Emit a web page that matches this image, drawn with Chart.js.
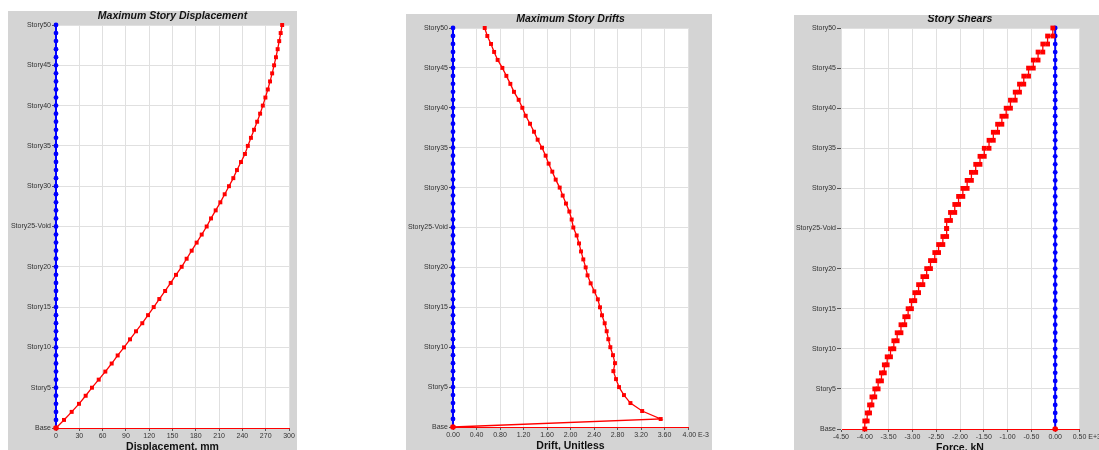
<!DOCTYPE html>
<html lang="en">
<head>
  <meta charset="UTF-8" />
  <title>Story Response</title>
  <script src="https://cdn.jsdelivr.net/npm/chart.js"></script>
  <style>
    html, body { margin: 0; padding: 0; background: #fff; width: 1099px; height: 450px; overflow: hidden; }
    .painel { position: absolute; background: #d4d4d4; }
    .painel canvas { display: block; }
  </style>
</head>
<body>
  <div class="painel" style="left:8px; top:11px;"><canvas id="dispChart" width="289" height="460"></canvas></div>
  <div class="painel" style="left:406px; top:14px;"><canvas id="driftChart" width="306" height="460"></canvas></div>
  <div class="painel" style="left:794px; top:15px;"><canvas id="shearChart" width="305" height="460"></canvas></div>

  <script>
    // story names, Base at index 0 up to Story50
    var stories = ['Base', 'Story1', 'Story2', 'Story3', 'Story4', 'Story5', 'Story6', 'Story7', 'Story8', 'Story9',
      'Story10', 'Story11', 'Story12', 'Story13', 'Story14', 'Story15', 'Story16', 'Story17', 'Story18', 'Story19',
      'Story20', 'Story21', 'Story22', 'Story23', 'Story24', 'Story25-Void', 'Story26', 'Story27', 'Story28', 'Story29',
      'Story30', 'Story31', 'Story32', 'Story33', 'Story34', 'Story35', 'Story36', 'Story37', 'Story38', 'Story39',
      'Story40', 'Story41', 'Story42', 'Story43', 'Story44', 'Story45', 'Story46', 'Story47', 'Story48', 'Story49', 'Story50'];

    // max story displacement (mm), Base..Story50
    var displacement = [0, 10.3, 20.2, 29.6, 38.2, 46.3, 55.0, 63.5, 71.7, 79.4,
      87.6, 95.3, 103.0, 111.1, 118.5, 125.8, 133.0, 140.5, 147.7, 154.5,
      161.8, 168.2, 174.7, 181.1, 187.6, 194.0, 199.6, 205.6, 211.6, 217.2,
      222.7, 228.3, 233.0, 238.2, 243.3, 247.0, 251.0, 255.0, 259.0, 262.8,
      266.3, 269.6, 272.7, 275.6, 278.3, 280.8, 283.2, 285.4, 287.4, 289.3, 291.2];

    // max story drift (E-3), Base..Story50
    var drift = [0, 3.535, 3.22, 3.02, 2.91, 2.826, 2.775, 2.73, 2.757, 2.723,
      2.678, 2.644, 2.616, 2.582, 2.536, 2.502, 2.465, 2.405, 2.343, 2.29,
      2.258, 2.218, 2.179, 2.145, 2.105, 2.048, 2.02, 1.98, 1.923, 1.867,
      1.816, 1.748, 1.69, 1.628, 1.577, 1.515, 1.441, 1.379, 1.311, 1.237,
      1.18, 1.118, 1.038, 0.976, 0.908, 0.84, 0.76, 0.70, 0.647, 0.584, 0.54];

    // story shear (kN E+3), Story1..Story50
    var shear = [-4.00, -3.95, -3.90, -3.85, -3.79, -3.72, -3.65, -3.59, -3.53, -3.46,
      -3.39, -3.32, -3.24, -3.16, -3.09, -3.02, -2.95, -2.87, -2.78, -2.70,
      -2.62, -2.53, -2.45, -2.36, -2.28, -2.28, -2.20, -2.11, -2.03, -1.94,
      -1.85, -1.76, -1.67, -1.58, -1.49, -1.39, -1.30, -1.21, -1.12, -1.03,
      -0.94, -0.84, -0.75, -0.66, -0.56, -0.46, -0.36, -0.26, -0.16, -0.05];

    // the other direction, zero at every level (Base..Story50)
    var zeroLine = [0, 0, 0, 0, 0, 0, 0, 0, 0, 0, 0, 0, 0, 0, 0, 0, 0, 0, 0, 0, 0, 0, 0, 0, 0, 0,
      0, 0, 0, 0, 0, 0, 0, 0, 0, 0, 0, 0, 0, 0, 0, 0, 0, 0, 0, 0, 0, 0, 0, 0, 0];

    var dispTicks = ['0', '30', '60', '90', '120', '150', '180', '210', '240', '270', '300'];
    var driftTicks = ['0.00', '0.40', '0.80', '1.20', '1.60', '2.00', '2.40', '2.80', '3.20', '3.60', '4.00 E-3'];
    var shearTicks = ['-4.50', '-4.00', '-3.50', '-3.00', '-2.50', '-2.00', '-1.50', '-1.00', '-0.50', '0.00', '0.50 E+3'];

    var FONTE = '"Liberation Sans", Arial, sans-serif';
    var VERMELHO = '#ff0000';
    var AZUL = '#0000ff';

    // white plot area + title over the plot
    var fundoPlugin = {
      id: 'fundoPlugin',
      beforeDraw: function (chart) {
        var a = chart.chartArea;
        chart.ctx.save();
        chart.ctx.fillStyle = '#ffffff';
        chart.ctx.fillRect(a.left, a.top, a.right - a.left, a.bottom - a.top);
        chart.ctx.restore();
      },
      afterDraw: function (chart, args, opts) {
        var a = chart.chartArea;
        var ctx = chart.ctx;
        ctx.save();
        ctx.font = 'italic bold 10.5px ' + FONTE;
        ctx.fillStyle = '#111';
        ctx.textAlign = 'center';
        ctx.textBaseline = 'middle';
        ctx.fillText(opts.texto, (a.left + a.right) / 2, a.top - 8.5);
        ctx.restore();
      }
    };

    function pontos(xs) {
      var lista = [];
      for (var i = 0; i < xs.length; i++) {
        lista.push({ x: xs[i], y: i });
      }
      return lista;
    }

    function criarGrafico(id, conf) {
      var serieAzul = {
        data: pontos(zeroLine),
        borderColor: AZUL,
        borderWidth: 2,
        pointStyle: 'circle',
        pointRadius: function (ctx) { return ctx.dataIndex === 0 ? 2.8 : 2.4; },
        pointBackgroundColor: function (ctx) { return ctx.dataIndex === 0 ? VERMELHO : AZUL; },
        pointBorderWidth: 0,
        showLine: true,
        clip: false
      };
      var serieVermelha = {
        data: conf.dados,
        borderColor: VERMELHO,
        borderWidth: 1.3,
        pointStyle: 'rect',
        pointRadius: conf.raio,
        pointBackgroundColor: VERMELHO,
        pointBorderWidth: 0,
        showLine: true,
        clip: false
      };

      new Chart(document.getElementById(id).getContext('2d'), {
        type: 'scatter',
        data: { datasets: conf.azulPorCima ? [serieVermelha, serieAzul] : [serieAzul, serieVermelha] },
        options: {
          responsive: false,
          animation: false,
          events: [],
          layout: { padding: { top: conf.topo, right: conf.direita, left: 0, bottom: 0 } },
          plugins: {
            legend: { display: false },
            tooltip: { enabled: false },
            fundoPlugin: { texto: conf.titulo }
          },
          scales: {
            x: {
              type: 'linear',
              min: conf.xMin,
              max: conf.xMax,
              afterBuildTicks: function (s) {
                var t = [];
                for (var i = 0; i < conf.xTicks.length; i++) {
                  t.push({ value: conf.xMin + i * conf.xPasso });
                }
                s.ticks = t;
              },
              afterFit: function (s) {
                s.height = 460 - conf.fundo;
                s.paddingLeft = 0;
                s.paddingRight = 0;
              },
              ticks: {
                autoSkip: false,
                maxRotation: 0,
                padding: 1,
                color: '#333',
                font: { family: FONTE, size: 7 },
                callback: function (v, i) {
                  var txt = conf.xTicks[i];
                  if (txt.indexOf(' E') > 0) {
                    // keep the number centred on its tick, suffix hangs to the right
                    return '\u2007\u2007\u2007\u2007' + txt;
                  }
                  return txt;
                }
              },
              grid: { color: '#e0e0e0', lineWidth: 1, tickLength: 3, tickColor: '#555' },
              border: { color: VERMELHO, width: 1 },
              title: {
                display: true,
                text: conf.tituloX,
                color: '#111',
                font: { family: FONTE, size: 10.5, weight: 'bold' },
                padding: { top: 0, bottom: conf.tituloPad }
              }
            },
            y: {
              type: 'linear',
              min: 0,
              max: 50,
              afterFit: function (s) {
                s.width = conf.esquerda;
              },
              ticks: {
                stepSize: 5,
                padding: 1,
                color: '#333',
                font: { family: FONTE, size: 7 },
                callback: function (v) {
                  return stories[v];
                }
              },
              grid: { color: '#e0e0e0', lineWidth: 1, tickLength: 4, tickColor: '#555' },
              border: { color: '#e0e0e0' }
            }
          }
        },
        plugins: [fundoPlugin]
      });
    }

    // shear is drawn as steps: each story holds its value from floor to floor
    var degraus = [];
    for (var i = 0; i < shear.length; i++) {
      degraus.push({ x: shear[i], y: i });
      degraus.push({ x: shear[i], y: i + 1 });
    }

    criarGrafico('dispChart', {
      titulo: 'Maximum Story Displacement',
      tituloX: 'Displacement, mm',
      dados: pontos(displacement),
      raio: 2.8,
      xMin: 0, xMax: 300, xPasso: 30, xTicks: dispTicks,
      topo: 14, direita: 8, esquerda: 48, fundo: 417, tituloPad: 17.5
    });

    criarGrafico('driftChart', {
      titulo: 'Maximum Story Drifts',
      tituloX: 'Drift, Unitless',
      dados: pontos(drift),
      raio: 2.8,
      xMin: 0, xMax: 4, xPasso: 0.4, xTicks: driftTicks,
      topo: 14, direita: 24, esquerda: 47, fundo: 413, tituloPad: 21.5
    });

    criarGrafico('shearChart', {
      titulo: 'Story Shears',
      tituloX: 'Force, kN',
      dados: degraus,
      raio: 3.4,
      azulPorCima: true,
      xMin: -4.5, xMax: 0.5, xPasso: 0.5, xTicks: shearTicks,
      topo: 13, direita: 20, esquerda: 47, fundo: 414, tituloPad: 21
    });
  </script>
</body>
</html>
